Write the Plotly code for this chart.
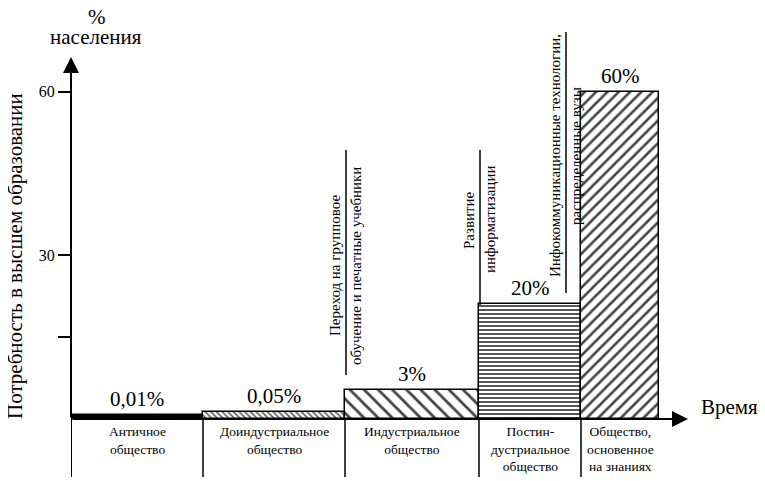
"""
Потребность в высшем образовании по типам общества — схематичная столбчатая диаграмма
"""

import plotly.graph_objects as go

FONT = "Times New Roman"

# типы общества (подписи под осью времени)
categories = [
    "Античное<br>общество",
    "Доиндустриальное<br>общество",
    "Индустриальное<br>общество",
    "Постин-<br>дустриальное<br>общество",
    "Общество,<br>основенное<br>на знаниях",
]
value_labels = ["0,01%", "0,05%", "3%", "20%", "60%"]
bar_heights = [0.8, 1.3, 5.3, 21, 60]          # условная высота столбца (% населения)
bar_edges = [0, 132, 274, 408, 510, 588]        # границы этапов по оси времени

tick_vals = [15, 30, 60]
tick_text = ["", "30", "60"]

# вехи: две строки подписи, повёрнутые на 90°
milestones = [
    ("Переход на групповое", "обучение и печатные учебники"),
    ("Развитие", "информатизации"),
    ("Инфокоммуникационные технологии,", "распределенные вузы"),
]

# оформление столбцов
bar_colors = ["black", "white", "white", "white", "white"]
bar_patterns = ["", "\\", "\\", "-", "/"]
pattern_size = [8, 4, 10, 4, 8]
pattern_solid = [0.3, 0.35, 0.28, 0.45, 0.32]

# геометрия (в пикселях картинки-образца); страница даёт отступ body 8 px
OFF = 8
W, H = 765 - OFF, 481 - OFF
X0, Y0 = 71, 419               # начало координат на образце
X_MAX = 629                    # 1 единица по x = 1 px
L, T = X0 - OFF, 40 - OFF
R = W - (L + X_MAX)
B = H - (Y0 - OFF)
Y_MAX = 69.5
PX_PER_Y = (Y0 - 40) / Y_MAX


def xd(px):
    return px - X0


def yd(py):
    return (Y0 - py) / PX_PER_Y


def xp(px):  # пиксели -> paper
    return (px - X0) / X_MAX


def yp(py):
    return (Y0 - py) / (Y0 - 40)


def f(size):
    return dict(size=size, family=FONT, color="black")


widths = [b - a for a, b in zip(bar_edges[:-1], bar_edges[1:])]
centers = [(a + b) / 2 for a, b in zip(bar_edges[:-1], bar_edges[1:])]

fig = go.Figure(go.Bar(
    x=centers, y=bar_heights, width=widths,
    marker=dict(
        color=bar_colors,
        line=dict(color="black", width=1.5),
        pattern=dict(shape=bar_patterns, size=pattern_size, solidity=pattern_solid,
                     fgcolor="#1a1a1a", bgcolor=bar_colors, fgopacity=1,
                     fillmode="overlay"),
    ),
    hoverinfo="skip",
))

C = dict(xanchor="center", yanchor="middle", showarrow=False)
ann = []
# подписи значений над столбцами
for c, h, t in zip(centers, bar_heights, value_labels):
    ann.append(dict(x=c, y=h, text=t, yshift=16, font=f(21), **C))
# подписи этапов под осью
for c, t in zip(centers, categories):
    ann.append(dict(x=c, y=0, text=t, showarrow=False, xanchor="center", yanchor="top",
                    yshift=-3, font=f(13.5)))

# вехи (повёрнутые подписи + вертикальная черта между строками)
ms_pos = [  # x черты, верх, низ, центр текста по y (px)
    (346, 150, 375, 266),
    (480, 150, 305, 220),
    (566, 32, 293, 156),
]
shapes = []
for (l1, l2), (lx, top, bot, cy) in zip(milestones, ms_pos):
    shapes.append(dict(type="line", xref="x", yref="paper", x0=xd(lx), x1=xd(lx),
                       y0=yp(bot), y1=yp(top), line=dict(color="black", width=1.5)))
    ann.append(dict(x=xd(lx - 11), y=yd(cy), text=l1, textangle=-90, font=f(15), **C))
    ann.append(dict(x=xd(lx + 10), y=yd(cy), text=l2, textangle=-90, font=f(15), **C))

# разделители под осью времени
for e in bar_edges[:-1]:
    shapes.append(dict(type="line", xref="x", yref="paper", x0=e, x1=e,
                       y0=0, y1=yp(477),
                       line=dict(color="black", width=1.5 if e else 2)))

# оси со стрелками
ann.append(dict(x=0, y=yd(57), ax=0, ay=0, axref="x", ayref="y", text="",
                showarrow=True, arrowhead=2, arrowsize=1.6, arrowwidth=2, arrowcolor="black"))
ann.append(dict(x=xd(688), y=0, ax=0, ay=0, axref="x", ayref="y", text="",
                showarrow=True, arrowhead=2, arrowsize=1.6, arrowwidth=2, arrowcolor="black"))

# подписи осей (в координатах paper, т.к. вне области построения)
P = dict(xref="paper", yref="paper", **C)
ann.append(dict(x=xp(729), y=yp(407), text="Время", font=f(21), **P))
ann.append(dict(x=xp(97), y=yp(17), text="%", font=f(21), **P))
ann.append(dict(x=xp(96), y=yp(37), text="населения", font=f(21), **P))
ann.append(dict(x=xp(15), y=yp(256), text="Потребность в высшем образовании",
                textangle=-90, font=f(21), **P))

fig.update_layout(
    width=W, height=H,
    margin=dict(l=L, r=R, t=T, b=B, autoexpand=False),
    plot_bgcolor="white", paper_bgcolor="white",
    font=f(14),
    showlegend=False,
    bargap=0,
    xaxis=dict(range=[0, X_MAX], visible=False, fixedrange=True),
    yaxis=dict(range=[0, Y_MAX], showgrid=False, zeroline=False, showline=False,
               tickvals=tick_vals, ticktext=tick_text, ticks="outside", ticklen=12,
               tickwidth=1.5, tickcolor="black", tickfont=f(16),
               automargin=False),
    annotations=ann,
    shapes=shapes,
)

fig.write_html("out.html")
